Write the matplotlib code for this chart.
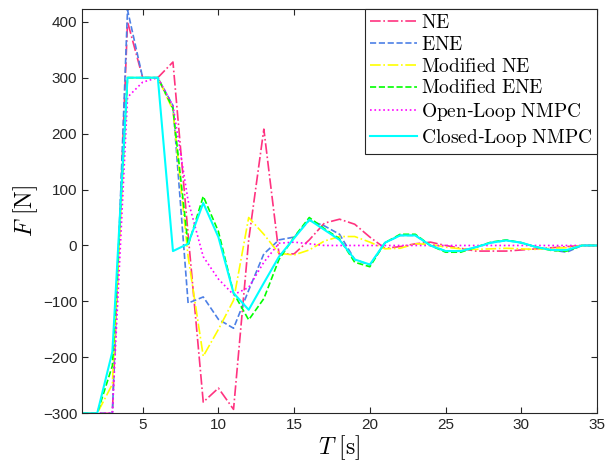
import numpy as np
import matplotlib.pyplot as plt

plt.rcParams['mathtext.fontset'] = 'cm'
plt.rcParams['font.family'] = ['Liberation Sans', 'DejaVu Sans']

t = np.arange(1, 36)

ne = [-300, -300, -300, 400, 300, 300, 328, 20, -280, -255, -293, 10, 208, -15, -15,
      10, 40, 47, 38, 15, -5, -2, 3, 6, 0, -5, -10, -10, -10, -8, -6, -4, -2, 0, 0]
ene = [-300, -300, -300, 421, 300, 300, 250, -103, -92, -132, -148, -80, -15, 10, 15,
       45, 35, 20, -25, -35, 5, 18, 18, 0, -10, -10, -3, 5, 9, 5, -3, -8, -12, 0, 0]
mod_ne = [-300, -300, -248, 300, 300, 300, 242, -20, -198, -150, -98, 50, 20, -14, -17,
          -8, 8, 16, 16, 6, -6, -5, 3, 2, -3, -6, -7, -6, -5, -6, -7, -5, -4, 0, 0]
mod_ene = [-300, -300, -215, 300, 300, 300, 245, 0, 88, 25, -85, -133, -95, -25, 15,
           50, 30, 12, -30, -38, 5, 20, 20, 0, -12, -12, -3, 6, 10, 5, -3, -9, -10, 0, 0]
open_loop = [-300, -300, -300, 265, 292, 300, 250, 80, -20, -60, -88, -75, -30, 4, 6,
             3, 0, 0, 0, 0, 0, 0, 0, 0, 0, 0, 0, 0, 0, 0, 0, 0, 0, 0, 0]
closed_loop = [-300, -300, -190, 300, 300, 300, -10, 3, 76, 15, -85, -115, -67, -20, 13,
               46, 28, 10, -25, -34, 5, 18, 18, 0, -10, -10, -3, 5, 9, 5, -3, -8, -8, 0, 0]

fig = plt.figure(figsize=(6.08, 4.67), dpi=100)
ax = fig.add_axes([0.135, 0.115, 0.847, 0.866])

ax.plot(t, ne, '-.', color=(1.0, 0.2, 0.5), lw=1.2, label=r'$\mathrm{NE}$')
ax.plot(t, ene, '--', color=(0.3, 0.5, 0.9), lw=1.2, label=r'$\mathrm{ENE}$')
ax.plot(t, mod_ne, '-.', color=(1.0, 1.0, 0.0), lw=1.2, label=r'$\mathrm{Modified\ NE}$')
ax.plot(t, mod_ene, '--', color=(0.0, 1.0, 0.0), lw=1.2, label=r'$\mathrm{Modified\ ENE}$')
ax.plot(t, open_loop, ':', color=(1.0, 0.0, 1.0), lw=1.2, label=r'$\mathrm{Open}$-$\mathrm{Loop\ NMPC}$')
ax.plot(t, closed_loop, '-', color=(0.0, 1.0, 1.0), lw=1.5, label=r'$\mathrm{Closed}$-$\mathrm{Loop\ NMPC}$')

ax.set_xlim(1, 35)
ax.set_ylim(-300, 423)
ax.set_xticks([5, 10, 15, 20, 25, 30, 35])
ax.set_yticks([-300, -200, -100, 0, 100, 200, 300, 400])
ax.tick_params(direction='in', top=True, right=True, labelsize=11,
               colors='#262626', length=4, width=0.8)
for s in ax.spines.values():
    s.set_color('#262626')
    s.set_linewidth(0.8)

ax.set_xlabel(r'$T\ [\mathrm{s}]$', fontsize=17, labelpad=1)
ax.set_ylabel(r'$F\ [\mathrm{N}]$', fontsize=17, labelpad=2)

leg = ax.legend(loc='upper right', fontsize=14, handlelength=2.4, handletextpad=0.2,
                labelspacing=0.2, borderpad=0.25, borderaxespad=0.0,
                fancybox=False, framealpha=1, edgecolor='#262626')
leg.get_frame().set_linewidth(0.8)

fig.savefig('out.png', dpi=100)
